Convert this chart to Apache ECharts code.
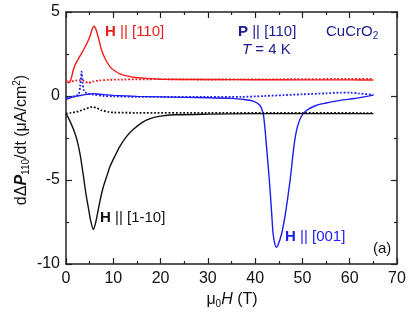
<!DOCTYPE html>
<html><head><meta charset="utf-8">
<script src="https://cdn.jsdelivr.net/npm/echarts@6/dist/echarts.min.js"></script>
<style>html,body{margin:0;padding:0;background:#fff}#c{width:415px;height:318px}</style>
</head><body><div id="c"></div>
<script>
// ---- data ----
const xTickValues = [0, 10, 20, 30, 40, 50, 60, 70];
const yTickValues = [-10, -5, 0, 5];

const redSolid = [[0,0.88],[0.5,0.8],[1,0.95],[1.5,1.5],[2,1.9],[3,2.4],[4,2.9],[5,3.5],[5.5,3.95],[5.9,4.15],[6.3,4.0],[7,3.3],[7.5,2.75],[8.3,2.2],[9.3,1.75],[10.3,1.5],[11.4,1.32],[12.8,1.2],[14.2,1.12],[17,1.05],[20,1.0],[30,0.98],[40,0.97],[50,0.96],[60,0.96],[65,0.95]];
const redDotted = [[0,0.95],[0.5,0.8],[1,0.85],[2,0.92],[3,0.95],[4,0.88],[4.7,0.77],[5.5,0.85],[7,0.92],[9,0.96],[12,0.98],[20,1.0],[30,0.98],[40,0.99],[50,1.0],[60,1.02],[65,1.02]];
const blueSolid = [[0,-0.2],[0.5,-0.15],[1,-0.1],[2,-0.02],[3,0.03],[4,0.08],[5,0.12],[6,0.14],[7,0.1],[8,0.08],[10,0.04],[15,-0.02],[20,-0.05],[25,-0.08],[30,-0.1],[35,-0.14],[37.5,-0.2],[39.6,-0.3],[41.0,-0.55],[41.7,-1.05],[42.1,-2.0],[42.4,-3.0],[43.0,-5.0],[43.5,-7.0],[43.8,-8.2],[44.2,-8.85],[44.5,-9.0],[44.8,-8.9],[45.6,-8.2],[46.4,-7.0],[47.4,-5.0],[48.2,-3.0],[48.8,-2.0],[49.7,-1.25],[50.9,-0.85],[53,-0.55],[55,-0.42],[58,-0.26],[61,-0.15],[63,-0.05],[65,0.05]];
const blueDotted = [[0,-0.1],[0.5,-0.12],[1,-0.05],[2,0.0],[2.7,0.1],[3.0,0.6],[3.3,1.45],[3.5,0.8],[3.8,0.3],[4.2,0.2],[5,0.12],[6,0.08],[8,0.0],[10,-0.02],[15,-0.05],[20,-0.05],[30,-0.05],[37,-0.05],[42,0.0],[46,0.05],[50,0.1],[55,0.16],[58,0.2],[60,0.2],[62,0.15],[65,0.08]];
const blackSolid = [[0,-1.05],[0.5,-1.3],[1,-1.6],[1.6,-2.0],[2.3,-2.6],[3,-3.5],[3.7,-4.8],[4.2,-5.8],[4.7,-6.6],[5.2,-7.4],[5.8,-7.95],[6.3,-7.5],[6.8,-6.8],[7.3,-6.1],[7.9,-5.4],[8.6,-4.8],[9.3,-4.2],[10.3,-3.6],[11.4,-3.0],[12.7,-2.45],[14.2,-2.0],[16,-1.6],[17.8,-1.35],[20,-1.2],[23,-1.12],[30,-1.08],[40,-1.05],[50,-1.05],[65,-1.05]];
const blackDotted = [[0,-1.05],[1,-1.0],[2,-0.95],[3,-0.88],[4,-0.78],[5,-0.68],[5.5,-0.65],[6.5,-0.72],[7.5,-0.85],[9,-0.95],[10,-0.98],[15,-1.0],[30,-1.0],[50,-1.0],[65,-1.02]];

// ---- styling ----
const FF = '"Liberation Sans", Arial, sans-serif';
const RED = '#f01c1c', BLUE = '#1c1cf2', NAVY = '#1c1c8c', AX = '#222';

const axLine = {show:true, onZero:false, lineStyle:{color:AX, width:1.5}};
const axTick = {show:true, inside:true, length:6, lineStyle:{color:AX, width:1.2}};
const minTick = {show:true, splitNumber:2, length:3, lineStyle:{color:AX, width:1.2}};

function xAx(pos, labels){
  return {type:'value', position:pos, min:0, max:70, interval:10,
    axisLine:axLine, axisTick:axTick, minorTick:minTick, splitLine:{show:false},
    axisLabel:{show:labels, fontSize:16, color:'#111', fontFamily:FF, margin:7,
      formatter: v => xTickValues.includes(v) ? String(v) : ''}};
}
function yAx(pos, labels){
  return {type:'value', position:pos, min:-10, max:5, interval:5,
    axisLine:axLine, axisTick:axTick, minorTick:minTick, splitLine:{show:false},
    axisLabel:{show:labels, fontSize:16, color:'#111', fontFamily:FF, margin:6,
      formatter: v => yTickValues.includes(v) ? String(v) : ''}};
}
function line(data, color, dotted){
  return {type:'line', data, xAxisIndex:0, yAxisIndex:0, showSymbol:false, smooth:0.25,
    lineStyle:{color, width: dotted ? 1.8 : 1.4, type: dotted ? 'dotted' : 'solid'}, z: dotted ? 3 : 4};
}
function txt(x, y, text, rich, fill){
  return {type:'text', x, y, style:{text, rich, fill, font:'15px '+FF, align:'left', verticalAlign:'middle'}};
}
const base = {fontSize:15, fontFamily:FF};

const chart = echarts.init(document.getElementById('c'), null, {renderer:'canvas'});
chart.setOption({
  animation:false,
  backgroundColor:'#fff',
  grid:{left:66, right:18, top:12, bottom:54, containLabel:false},
  xAxis:[xAx('bottom', true), xAx('top', false)],
  yAxis:[yAx('left', true), yAx('right', false)],
  series:[
    line(redDotted, RED, true), line(blueDotted, BLUE, true), line(blackDotted, '#111', true),
    line(redSolid, RED, false), line(blueSolid, BLUE, false), line(blackSolid, '#111', false)
  ],
  graphic:[
    txt(105, 32, '{b|H}{n| || [110]}', {b:{...base, fontWeight:'bold', fill:RED}, n:{...base, fill:RED}}, RED),
    txt(238, 32, '{b|P}{n| || [110]}', {b:{...base, fontWeight:'bold', fill:NAVY}, n:{...base, fill:NAVY}}, NAVY),
    txt(242, 50, '{i|T}{n| = 4 K}', {i:{...base, fontStyle:'italic', fill:NAVY}, n:{...base, fill:NAVY}}, NAVY),
    txt(326, 32, '{n|CuCrO}{s|2}', {n:{...base, fill:NAVY}, s:{fontSize:10, fontFamily:FF, fill:NAVY, padding:[9,0,0,0]}}, NAVY),
    txt(100, 218, '{b|H}{n| || [1-10]}', {b:{...base, fontWeight:'bold', fill:'#111'}, n:{...base, fill:'#111'}}, '#111'),
    txt(285, 237, '{b|H}{n| || [001]}', {b:{...base, fontWeight:'bold', fill:BLUE}, n:{...base, fill:BLUE}}, BLUE),
    txt(373, 249, '{n|(a)}', {n:{...base, fill:'#111'}}, '#111'),
    {type:'text', x:232, y:300, style:{text:'{n|μ}{s|0}{i|H}{n| (T)}',
      rich:{n:{fontSize:16, fontFamily:FF, fill:'#111'}, s:{fontSize:10, fontFamily:FF, fill:'#111', padding:[9,0,0,0]},
            i:{fontSize:16, fontFamily:FF, fontStyle:'italic', fill:'#111'}},
      align:'center', verticalAlign:'middle', fill:'#111'}},
    {type:'text', x:22, y:140, rotation:Math.PI/2, style:{text:'{n|dΔ}{b|P}{s|110}{n|/dt (μA/cm}{p|2}{n|)}',
      rich:{n:{fontSize:16, fontFamily:FF, fill:'#111'}, b:{fontSize:16, fontFamily:FF, fontWeight:'bold', fontStyle:'italic', fill:'#111'},
            s:{fontSize:10, fontFamily:FF, fill:'#111', padding:[9,0,0,0]}, p:{fontSize:10, fontFamily:FF, fill:'#111', padding:[0,0,10,0]}},
      align:'center', verticalAlign:'middle', fill:'#111'}}
  ]
});
</script></body></html>
